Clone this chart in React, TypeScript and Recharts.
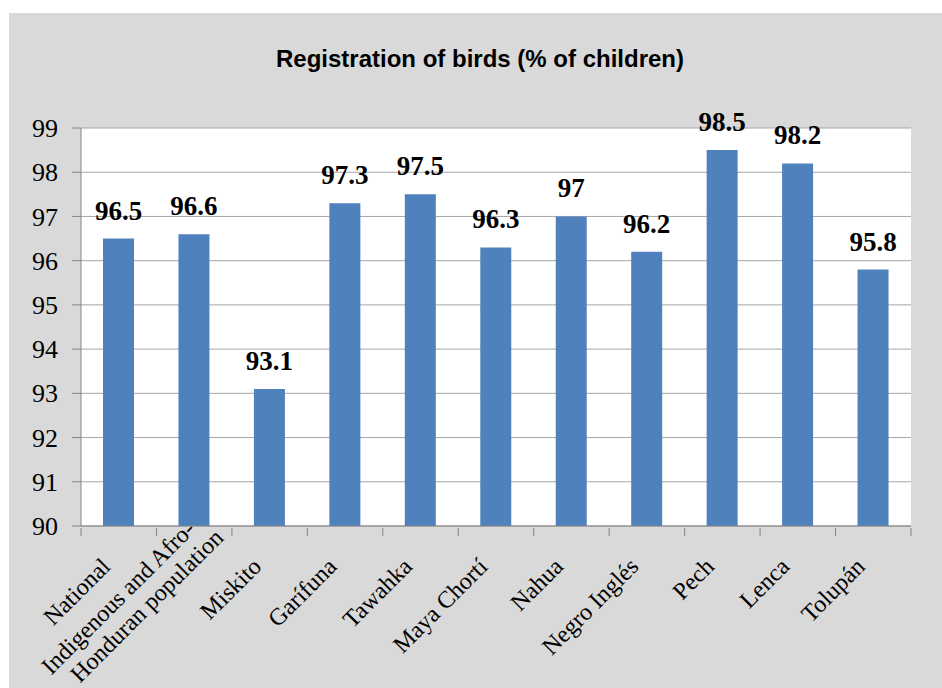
import { BarChart, Bar, XAxis, YAxis, CartesianGrid, LabelList } from 'recharts'

const categories = [
  'National',
  'Indigenous and Afro-\nHonduran population',
  'Miskito',
  'Garífuna',
  'Tawahka',
  'Maya Chortí',
  'Nahua',
  'Negro Inglés',
  'Pech',
  'Lenca',
  'Tolupán',
]
const registered = [96.5, 96.6, 93.1, 97.3, 97.5, 96.3, 97, 96.2, 98.5, 98.2, 95.8]
const yTicks = [90, 91, 92, 93, 94, 95, 96, 97, 98, 99]

const data = categories.map((name, i) => ({ name, value: registered[i] }))

const W = 933
const H = 675
const MARGIN = { top: 115, right: 31, left: 0, bottom: 0 }
const Y_AXIS_W = 72
const BAND = (W - MARGIN.right - MARGIN.left - Y_AXIS_W) / categories.length

const SERIF = '"Liberation Serif", "Times New Roman", serif'
const AXIS = '#868686'

function CategoryTick(props: any) {
  const { x, y, payload, index } = props
  const lines = String(payload.value).split('\n')
  const n = lines.length
  const left = x - BAND / 2
  return (
    <g>
      <line x1={left} y1={y} x2={left} y2={y + 8} stroke={AXIS} />
      {index === categories.length - 1 && (
        <line x1={left + BAND} y1={y} x2={left + BAND} y2={y + 8} stroke={AXIS} />
      )}
      <g transform={`translate(${x - 7},${y + 40}) rotate(-45)`}>
        {lines.map((l, i) => (
          <text
            key={i}
            x={n > 1 ? 40 + (i - (n - 1) / 2) * 14 : 0}
            y={n > 1 ? (i - (n - 1) / 2) * 26 - 7 : 0}
            textAnchor="end"
            fontFamily={SERIF}
            fontSize={24}
            fill="#000"
          >
            {l}
          </text>
        ))}
      </g>
    </g>
  )
}

function ValueTick(props: any) {
  const { x, y, payload } = props
  return (
    <text x={x} y={y} dy="0.35em" textAnchor="end" fontFamily={SERIF} fontSize={26} fill="#000">
      {payload.value}
    </text>
  )
}

function ValueLabel(props: any) {
  const { x, y, width, value } = props
  return (
    <text
      x={x + width / 2}
      y={y - 19}
      textAnchor="middle"
      fontFamily={SERIF}
      fontWeight="bold"
      fontSize={27}
      fill="#000"
    >
      {value}
    </text>
  )
}

export default function App() {
  return (
    <div style={{ position: 'fixed', left: 0, top: 0, width: 942, height: 688, background: '#fff', overflow: 'hidden' }}>
      <div style={{ position: 'absolute', left: 9, top: 13, width: W, height: H, background: '#d9d9d9' }}>
        <div
          style={{
            position: 'absolute',
            left: 0,
            top: 34.4,
            width: 942,
            textAlign: 'center',
            fontFamily: '"Liberation Sans", Arial, sans-serif',
            fontWeight: 'bold',
            fontSize: 24,
            lineHeight: '24px',
            color: '#000',
          }}
        >
          Registration of birds (% of children)
        </div>
        <BarChart width={W} height={H} data={data} margin={MARGIN}>
          <CartesianGrid vertical={false} stroke="#a6a6a6" fill="#fff" />
          <XAxis
            dataKey="name"
            interval={0}
            height={H - MARGIN.top - 398}
            axisLine={{ stroke: AXIS }}
            tickLine={false}
            tickSize={0}
            tick={<CategoryTick />}
          />
          <YAxis
            domain={[90, 99]}
            ticks={yTicks}
            width={Y_AXIS_W}
            axisLine={{ stroke: AXIS }}
            tickLine={{ stroke: AXIS }}
            tickSize={9}
            tickMargin={14}
            tick={<ValueTick />}
          />
          <Bar dataKey="value" fill="#4f81bd" barSize={31} isAnimationActive={false}>
            <LabelList dataKey="value" content={<ValueLabel />} />
          </Bar>
        </BarChart>
      </div>
    </div>
  )
}
